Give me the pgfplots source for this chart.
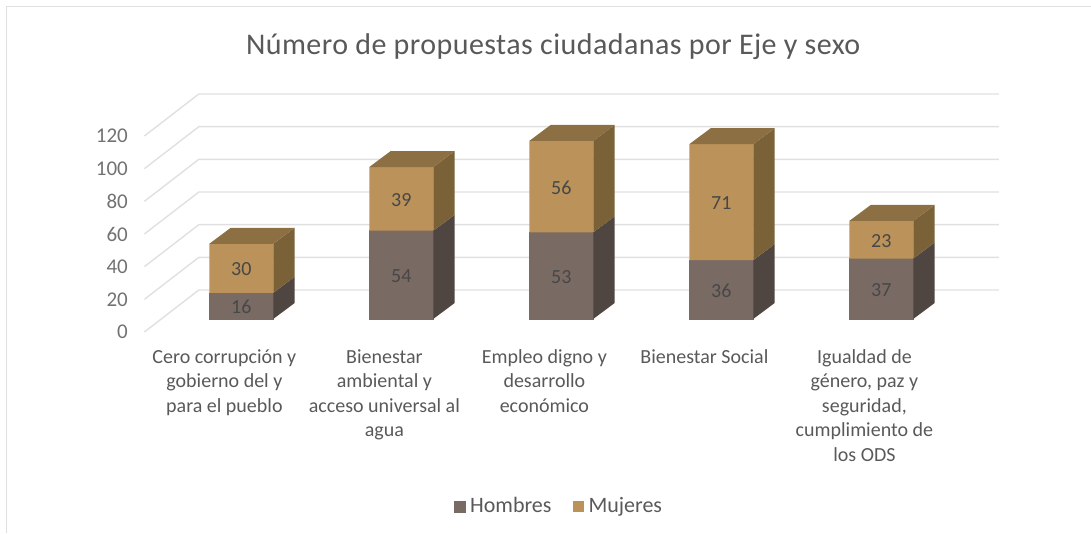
\documentclass[border=0pt]{standalone}
\usepackage{fontspec}
\setmainfont{Carlito}
\usepackage{pgfplots}
\usepackage{pgfplotstable}
\pgfplotsset{compat=1.18}

\definecolor{hombres}{HTML}{7A6A64}
\definecolor{hombresside}{HTML}{4F4541}
\definecolor{mujeres}{HTML}{BB9259}
\definecolor{mujeresside}{HTML}{7A6138}
\definecolor{mujerestop}{HTML}{8C6F42}
\definecolor{rejilla}{HTML}{E0E0E0}
\definecolor{texto}{HTML}{595959}

\pgfplotstableread{
x hombres mujeres
0 16 30
1 54 39
2 53 56
3 36 71
4 37 23
}\datos

% depth of a bar: half width .2, shift .1056, depth .134 / 9.8
\newcommand{\lado}[4]{%
  \addplot[fill=#4, draw=none, forget plot] coordinates {
    ({#1+0.3056},{#2}) ({#1+0.4396},{#2+9.8}) ({#1+0.4396},{#3+9.8}) ({#1+0.3056},{#3})
  };}
\newcommand{\tapa}[2]{%
  \addplot[fill=mujerestop, draw=none, forget plot] coordinates {
    ({#1-0.0944},{#2}) ({#1+0.0396},{#2+9.8}) ({#1+0.4396},{#2+9.8}) ({#1+0.3056},{#2})
  };}
\newcommand{\rejilla}[1]{%
  \addplot[rejilla, line width=1.4pt, forget plot] coordinates {
    (-0.5,#1) (-0.16,{#1+25.7}) (4.84,{#1+25.7})
  };}
% label in the middle of its segment, in the text font
\pgfplotsset{etiqueta/.style={
    nodes near coords={\pgfmathprintnumber[assume math mode=true]{\crudo}},
    visualization depends on={\thisrow{#1} \as \crudo},
    every node near coord/.append style={shift={(axis direction cs:0,-\crudo/2)}, xshift=16.9pt, yshift=-1pt}}}

\begin{document}
\begin{tikzpicture}[x=1pt,y=1pt]
  \path[use as bounding box] (0,0) rectangle (1091,533);
  \draw[rejilla, line width=1.6pt] (6.5,0) -- (6.5,526.5) -- (1091,526.5);
  \begin{axis}[
      at={(144.4pt,201pt)},
      anchor=south west,
      scale only axis,
      width=800pt,
      height=196pt,
      xmin=-0.5, xmax=4.5,
      ymin=-8, ymax=112,
      clip=false,
      axis line style={draw=none},
      major tick length=0pt,
      ytick={-8,12,32,52,72,92,112},
      yticklabels={0,20,40,60,80,100,120},
      yticklabel style={font=\fontsize{21}{21}\selectfont, text=texto!85!white, anchor=east, xshift=-13pt},
      xtick={0,1,2,3,4},
      xticklabels={
        Cero corrupción y\\gobierno del y\\para el pueblo,
        Bienestar\\ambiental y\\acceso universal al\\agua,
        Empleo digno y\\desarrollo\\económico,
        Bienestar Social,
        Igualdad de\\género{,} paz y\\seguridad{,}\\cumplimiento de\\los ODS},
      xticklabel style={font=\fontsize{20}{24.5}\selectfont, text=texto, align=center, anchor=north, yshift=-14pt},
      title={Número de propuestas ciudadanas por Eje y sexo},
      title style={at={(0.511,1)}, anchor=center, yshift=83pt, font=\fontsize{30}{30}\selectfont\addfontfeature{LetterSpace=1.5}, text=texto},
      legend style={at={(0.518,-0.888)}, anchor=center, draw=none, fill=none,
        legend columns=2, font=\fontsize{22}{22}\selectfont, text=texto,
        /tikz/column 1/.style={column sep=3pt},
        /tikz/column 2/.style={column sep=19pt},
        /tikz/column 3/.style={column sep=3pt}},
      legend image code/.code={\fill[#1] (0pt,-6pt) rectangle (11pt,5pt);},
      nodes near coords style={font=\fontsize{20}{20}\selectfont, text=black!72, anchor=center},
    ]
    \rejilla{-8}\rejilla{12}\rejilla{32}\rejilla{52}\rejilla{72}\rejilla{92}\rejilla{112}

    \addplot[ybar, stack plots=y, bar width=64pt, bar shift=16.9pt, fill=hombres, draw=hombres, line width=0.6pt, etiqueta=hombres]
      table[x=x, y=hombres] {\datos};
    \addlegendentry{Hombres}
    \addplot[ybar, stack plots=y, bar width=64pt, bar shift=16.9pt, fill=mujeres, draw=none, etiqueta=mujeres]
      table[x=x, y=mujeres] {\datos};
    \addlegendentry{Mujeres}

    \lado{0}{0}{16}{hombresside}\lado{0}{16}{46}{mujeresside}\tapa{0}{46}
    \lado{1}{0}{54}{hombresside}\lado{1}{54}{93}{mujeresside}\tapa{1}{93}
    \lado{2}{0}{53}{hombresside}\lado{2}{53}{109}{mujeresside}\tapa{2}{109}
    \lado{3}{0}{36}{hombresside}\lado{3}{36}{107}{mujeresside}\tapa{3}{107}
    \lado{4}{0}{37}{hombresside}\lado{4}{37}{60}{mujeresside}\tapa{4}{60}
  \end{axis}
\end{tikzpicture}
\end{document}
